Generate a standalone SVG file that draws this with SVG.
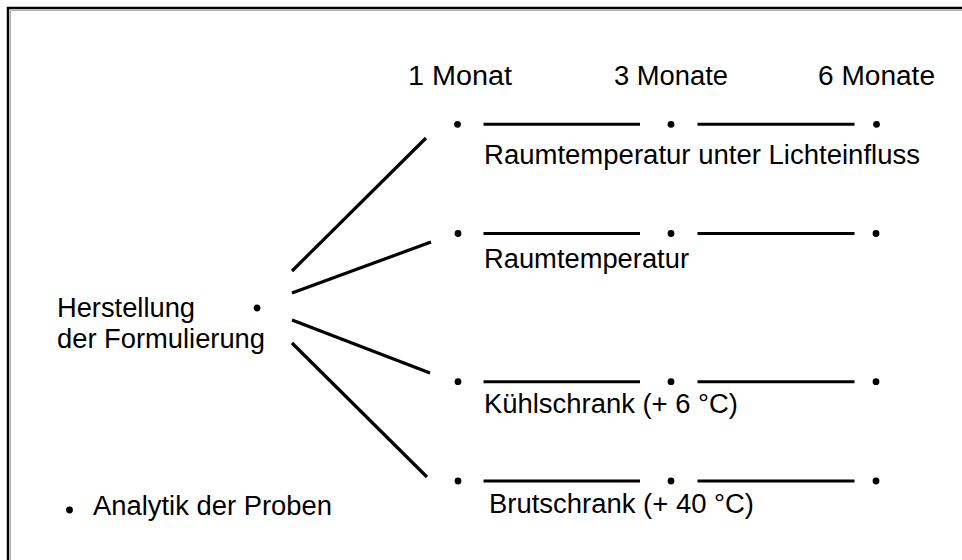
<svg xmlns="http://www.w3.org/2000/svg" width="962" height="560" viewBox="0 0 962 560">
<style>
text { font-family: "Liberation Sans", Arial, sans-serif; font-size: 27px; fill: #000; }
.dot { fill: #000; }
.seg { stroke: #000; stroke-width: 3; fill: none; }
.con { stroke: #000; stroke-width: 3.2; fill: none; stroke-linecap: butt; }
</style>
<rect width="962" height="560" fill="#fff"/>
<path d="M8,560 V8 H962" fill="none" stroke="#000" stroke-width="2.5"/>
<path d="M10.5,560 V10.5 H962" fill="none" stroke="#b0b0b0" stroke-width="1"/>

<g id="header">
  <text x="408" y="85" textLength="104" lengthAdjust="spacingAndGlyphs">1 Monat</text>
  <text x="614" y="85" textLength="114" lengthAdjust="spacingAndGlyphs">3 Monate</text>
  <text x="818" y="85" textLength="117" lengthAdjust="spacingAndGlyphs">6 Monate</text>
</g>

<g id="start">
  <circle class="dot" cx="257" cy="308" r="3.4"/>
  <text x="57" y="317" textLength="138" lengthAdjust="spacingAndGlyphs">Herstellung</text>
  <text x="57" y="348" textLength="208" lengthAdjust="spacingAndGlyphs">der Formulierung</text>
</g>

<g id="row-licht">
  <circle class="dot" cx="457.5" cy="124.3" r="3.4"/>
  <circle class="dot" cx="671" cy="124.3" r="3.4"/>
  <circle class="dot" cx="876.5" cy="124.3" r="3.4"/>
  <line class="seg" x1="483.5" y1="124.3" x2="640" y2="124.3"/>
  <line class="seg" x1="697.5" y1="124.3" x2="854.5" y2="124.3"/>
  <text x="484" y="164" textLength="436" lengthAdjust="spacingAndGlyphs">Raumtemperatur unter Lichteinfluss</text>
</g>

<g id="row-raum">
  <circle class="dot" cx="458" cy="233.5" r="3.4"/>
  <circle class="dot" cx="671" cy="233.5" r="3.4"/>
  <circle class="dot" cx="876" cy="233.5" r="3.4"/>
  <line class="seg" x1="483.5" y1="233.5" x2="640" y2="233.5"/>
  <line class="seg" x1="697.5" y1="233.5" x2="854.5" y2="233.5"/>
  <text x="484" y="268" textLength="205" lengthAdjust="spacingAndGlyphs">Raumtemperatur</text>
</g>

<g id="row-kuehl">
  <circle class="dot" cx="458" cy="381.7" r="3.4"/>
  <circle class="dot" cx="671" cy="381.7" r="3.4"/>
  <circle class="dot" cx="876" cy="381.7" r="3.4"/>
  <line class="seg" x1="483.5" y1="381.7" x2="640" y2="381.7"/>
  <line class="seg" x1="697.5" y1="381.7" x2="854.5" y2="381.7"/>
  <text x="484" y="413" textLength="254" lengthAdjust="spacingAndGlyphs">Kühlschrank (+ 6 °C)</text>
</g>

<g id="row-brut">
  <circle class="dot" cx="458" cy="481" r="3.4"/>
  <circle class="dot" cx="671" cy="481" r="3.4"/>
  <circle class="dot" cx="876" cy="481" r="3.4"/>
  <line class="seg" x1="483.5" y1="481" x2="640" y2="481"/>
  <line class="seg" x1="697.5" y1="481" x2="854.5" y2="481"/>
  <text x="489" y="513" textLength="265" lengthAdjust="spacingAndGlyphs">Brutschrank (+ 40 °C)</text>
</g>

<g id="legend">
  <circle class="dot" cx="69.5" cy="510" r="3.4"/>
  <text x="93" y="515" textLength="239" lengthAdjust="spacingAndGlyphs">Analytik der Proben</text>
</g>

<g id="connectors">
  <line class="con" x1="292" y1="271" x2="426" y2="138"/>
  <line class="con" x1="292" y1="293" x2="431" y2="242"/>
  <line class="con" x1="292" y1="320" x2="430" y2="373"/>
  <line class="con" x1="292" y1="343" x2="427" y2="477"/>
</g>
</svg>
